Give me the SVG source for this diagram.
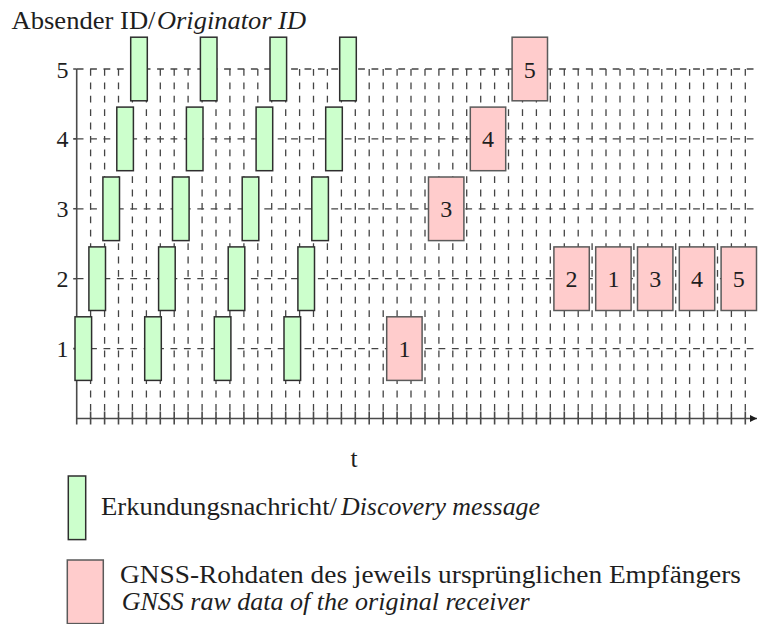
<svg xmlns="http://www.w3.org/2000/svg" width="759" height="624" viewBox="0 0 759 624">
  <style>
    .lbl { font-size: 25.5px; }
    .it { font-style: italic; }
    .num { font-size: 24px; }
    .tick { font-size: 24px; text-anchor: end; }
    .mid { text-anchor: middle; }
    .grid { fill: none; stroke: #444; stroke-width: 1.3; stroke-dasharray: 6.8 6.6; }
    .axis { fill: none; stroke: #4a4a4a; stroke-width: 1.6; }
    .disc { fill: #ccffcc; stroke: #2e2e2e; stroke-width: 1.5; }
    .raw { fill: #ffcccc; stroke: #5a5a5a; stroke-width: 1.5; }
  </style>
  <defs>
    <marker id="arrow" markerWidth="8" markerHeight="8" refX="7" refY="4" orient="auto" markerUnits="userSpaceOnUse">
      <path d="M0 0.5 L7 4 L0 7.5 Z" fill="#1e1e1e"/>
    </marker>
  </defs>

  <g font-family="'Liberation Serif', 'Times New Roman', serif" fill="#1e1e1e">
  <!-- title of the y axis -->
  <text class="lbl" x="11.5" y="29" textLength="144" lengthAdjust="spacingAndGlyphs">Absender ID/</text>
  <text class="lbl it" x="157" y="29" textLength="149" lengthAdjust="spacingAndGlyphs">Originator ID</text>

  <!-- dashed grid -->
  <g id="grid">
    <path class="grid" d="M76.7 69H758M76.7 138.9H758M76.7 208.8H758M76.7 278.7H758M76.7 348.6H758"/>
    <path class="grid" d="M90.6 69V418.5M104.6 69V418.5M118.5 69V418.5M132.4 69V418.5M146.4 69V418.5M160.3 69V418.5M174.2 69V418.5M188.1 69V418.5M202.1 69V418.5M216 69V418.5M229.9 69V418.5M243.9 69V418.5M257.8 69V418.5M271.7 69V418.5M285.7 69V418.5M299.6 69V418.5M313.5 69V418.5M327.4 69V418.5M341.4 69V418.5M355.3 69V418.5M369.2 69V418.5M383.2 69V418.5M397.1 69V418.5M411 69V418.5M425 69V418.5M438.9 69V418.5M452.8 69V418.5M466.7 69V418.5M480.7 69V418.5M494.6 69V418.5M508.5 69V418.5M522.5 69V418.5M536.4 69V418.5M550.3 69V418.5M564.3 69V418.5M578.2 69V418.5M592.1 69V418.5M606 69V418.5M620 69V418.5M633.9 69V418.5M647.8 69V418.5M661.8 69V418.5M675.7 69V418.5M689.6 69V418.5M703.6 69V418.5M717.5 69V418.5M731.4 69V418.5M745.3 69V418.5"/>
  </g>

  <!-- axes with ticks -->
  <g id="axes">
    <path class="axis" d="M76.7 69V424.5"/>
    <path class="axis" d="M73.2 69H76.7M73.2 138.9H76.7M73.2 208.8H76.7M73.2 278.7H76.7M73.2 348.6H76.7"/>
    <path class="axis" d="M76.7 418.5H757" marker-end="url(#arrow)"/>
    <path class="axis" d="M90.6 411.5V424.5M104.6 411.5V424.5M118.5 411.5V424.5M132.4 411.5V424.5M146.4 411.5V424.5M160.3 411.5V424.5M174.2 411.5V424.5M188.1 411.5V424.5M202.1 411.5V424.5M216 411.5V424.5M229.9 411.5V424.5M243.9 411.5V424.5M257.8 411.5V424.5M271.7 411.5V424.5M285.7 411.5V424.5M299.6 411.5V424.5M313.5 411.5V424.5M327.4 411.5V424.5M341.4 411.5V424.5M355.3 411.5V424.5M369.2 411.5V424.5M383.2 411.5V424.5M397.1 411.5V424.5M411 411.5V424.5M425 411.5V424.5M438.9 411.5V424.5M452.8 411.5V424.5M466.7 411.5V424.5M480.7 411.5V424.5M494.6 411.5V424.5M508.5 411.5V424.5M522.5 411.5V424.5M536.4 411.5V424.5M550.3 411.5V424.5M564.3 411.5V424.5M578.2 411.5V424.5M592.1 411.5V424.5M606 411.5V424.5M620 411.5V424.5M633.9 411.5V424.5M647.8 411.5V424.5M661.8 411.5V424.5M675.7 411.5V424.5M689.6 411.5V424.5M703.6 411.5V424.5M717.5 411.5V424.5M731.4 411.5V424.5M745.3 411.5V424.5"/>
    <text class="tick" x="68.5" y="77.5">5</text>
    <text class="tick" x="68.5" y="147.4">4</text>
    <text class="tick" x="68.5" y="217.3">3</text>
    <text class="tick" x="68.5" y="287.2">2</text>
    <text class="tick" x="68.5" y="357.1">1</text>
    <text class="lbl mid" x="354" y="467">t</text>
  </g>

  <!-- discovery messages, sender 1..5 in turn -->
  <g id="discovery">
    <g id="d1"><rect class="disc" x="75" y="316.8" width="16.6" height="63.6"/><rect class="disc" x="144.7" y="316.8" width="16.6" height="63.6"/><rect class="disc" x="214.3" y="316.8" width="16.6" height="63.6"/><rect class="disc" x="284" y="316.8" width="16.6" height="63.6"/></g>
    <g id="d2"><rect class="disc" x="88.9" y="246.9" width="16.6" height="63.6"/><rect class="disc" x="158.6" y="246.9" width="16.6" height="63.6"/><rect class="disc" x="228.2" y="246.9" width="16.6" height="63.6"/><rect class="disc" x="297.9" y="246.9" width="16.6" height="63.6"/></g>
    <g id="d3"><rect class="disc" x="102.9" y="177" width="16.6" height="63.6"/><rect class="disc" x="172.5" y="177" width="16.6" height="63.6"/><rect class="disc" x="242.2" y="177" width="16.6" height="63.6"/><rect class="disc" x="311.8" y="177" width="16.6" height="63.6"/></g>
    <g id="d4"><rect class="disc" x="116.8" y="107.1" width="16.6" height="63.6"/><rect class="disc" x="186.4" y="107.1" width="16.6" height="63.6"/><rect class="disc" x="256.1" y="107.1" width="16.6" height="63.6"/><rect class="disc" x="325.7" y="107.1" width="16.6" height="63.6"/></g>
    <g id="d5"><rect class="disc" x="130.7" y="37.2" width="16.6" height="63.6"/><rect class="disc" x="200.4" y="37.2" width="16.6" height="63.6"/><rect class="disc" x="270" y="37.2" width="16.6" height="63.6"/><rect class="disc" x="339.7" y="37.2" width="16.6" height="63.6"/></g>
  </g>

  <!-- raw data packets -->
  <g id="raw">
    <g id="r1"><rect class="raw" x="386.7" y="316.8" width="35.4" height="63.6"/><text class="num mid" x="404.4" y="357.1">1</text></g>
    <g id="r3"><rect class="raw" x="428.5" y="177" width="35.4" height="63.6"/><text class="num mid" x="446.2" y="217.3">3</text></g>
    <g id="r4"><rect class="raw" x="470.3" y="107.1" width="35.4" height="63.6"/><text class="num mid" x="488" y="147.4">4</text></g>
    <g id="r5"><rect class="raw" x="512.1" y="37.2" width="35.4" height="63.6"/><text class="num mid" x="529.8" y="77.5">5</text></g>
    <g id="f2"><rect class="raw" x="553.9" y="246.9" width="35.4" height="63.6"/><text class="num mid" x="571.6" y="287.2">2</text></g>
    <g id="f1"><rect class="raw" x="595.7" y="246.9" width="35.4" height="63.6"/><text class="num mid" x="613.4" y="287.2">1</text></g>
    <g id="f3"><rect class="raw" x="637.5" y="246.9" width="35.4" height="63.6"/><text class="num mid" x="655.2" y="287.2">3</text></g>
    <g id="f4"><rect class="raw" x="679.3" y="246.9" width="35.4" height="63.6"/><text class="num mid" x="697" y="287.2">4</text></g>
    <g id="f5"><rect class="raw" x="721.1" y="246.9" width="35.4" height="63.6"/><text class="num mid" x="738.8" y="287.2">5</text></g>
  </g>

  <!-- legend -->
  <g id="legend-discovery">
    <rect class="disc" x="68.3" y="476" width="17.4" height="63.6"/>
    <text class="lbl" x="101" y="515" textLength="236" lengthAdjust="spacingAndGlyphs">Erkundungsnachricht/</text>
    <text class="lbl it" x="341" y="515" textLength="199" lengthAdjust="spacingAndGlyphs">Discovery message</text>
  </g>
  <g id="legend-raw">
    <rect class="raw" x="67.3" y="560" width="36" height="63.6"/>
    <text class="lbl" x="120" y="583" textLength="621" lengthAdjust="spacingAndGlyphs">GNSS-Rohdaten des jeweils ursprünglichen Empfängers</text>
    <text class="lbl it" x="121.7" y="610" textLength="408" lengthAdjust="spacingAndGlyphs">GNSS raw data of the original receiver</text>
  </g>
  </g>
</svg>
